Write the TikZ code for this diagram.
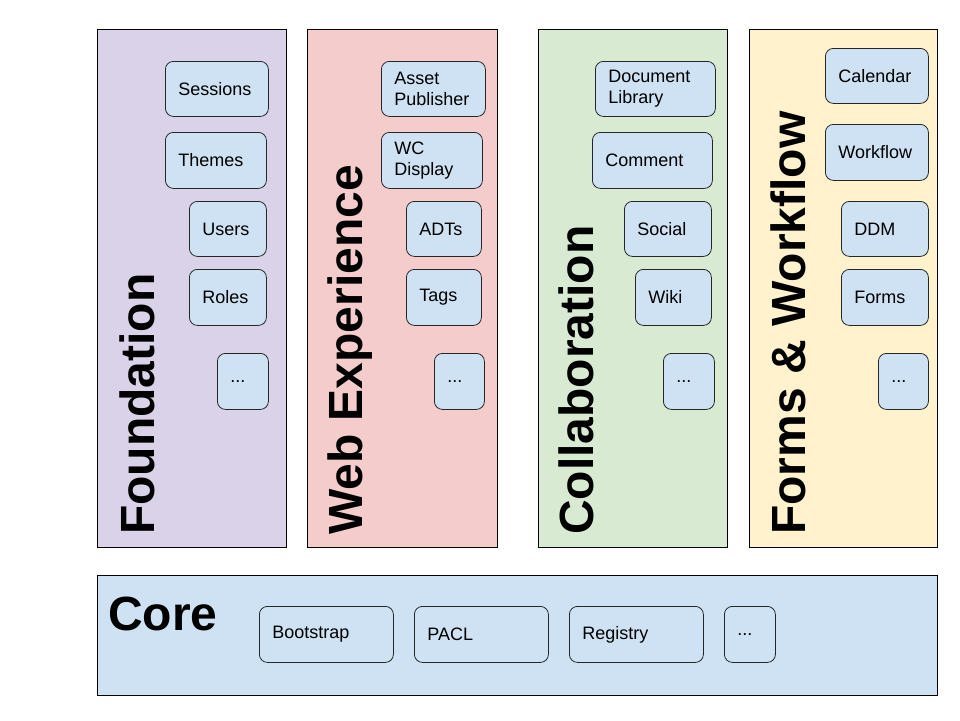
\documentclass[tikz,border=0pt]{standalone}
\usepackage{fontspec}
\setmainfont{Liberation Sans}
\usetikzlibrary{positioning}
\definecolor{foundpurple}{HTML}{D9D2E9}
\definecolor{webred}{HTML}{F4CCCC}
\definecolor{collabgreen}{HTML}{D9EAD3}
\definecolor{formsyellow}{HTML}{FFF2CC}
\definecolor{coreblue}{HTML}{CFE2F3}
\definecolor{moduleblue}{HTML}{CFE2F3}
\begin{document}
\begin{tikzpicture}[x=1pt, y=-1pt,
  layer/.style={rectangle, draw=black, line width=0.8pt, anchor=north west, inner sep=0pt},
  module/.style={rectangle, rounded corners=8pt, draw=black!85, fill=moduleblue, line width=0.8pt, anchor=north west, inner xsep=13pt, inner ysep=0pt, align=left, font=\fontsize{18}{21.5}\selectfont},
  title/.style={font=\fontsize{48}{50}\selectfont\bfseries, inner sep=0pt, anchor=base west}
]
  \useasboundingbox (0,0) rectangle (960,720);

  % layers
  \node[layer, fill=foundpurple, minimum width=189, minimum height=518] (found) at (97,29) {};
  \node[layer, fill=webred, minimum width=190, minimum height=518] (web) at (307,29) {};
  \node[layer, fill=collabgreen, minimum width=189, minimum height=518] (collab) at (538,29) {};
  \node[layer, fill=formsyellow, minimum width=188, minimum height=518] (forms) at (749,29) {};
  \node[layer, fill=coreblue, minimum width=840, minimum height=120] (core) at (97,575) {};

  % titles
  \node[title, rotate=90] (foundtitle) at (154,535) {Foundation};
  \node[title, rotate=90] (webtitle) at (362,535) {Web Experience};
  \node[title, rotate=90] (collabtitle) at (593,535) {Collaboration};
  \node[title, rotate=90] (formstitle) at (805,535) {Forms \& Workflow};
  \node[title] (coretitle) at (108,630) {Core};

  % foundation modules
  \node[module, minimum width=103, minimum height=55, text width=77] (sessions) at (165,61) {Sessions};
  \node[module, minimum width=101, minimum height=56, text width=75] (themes) at (165,132) {Themes};
  \node[module, minimum width=77, minimum height=55, text width=51] (users) at (189,201) {Users};
  \node[module, minimum width=77, minimum height=56, text width=51] (roles) at (189,269) {Roles};
  \node[module, minimum width=51, minimum height=56, text width=25] (foundmore) at (217,353) {...};

  % web experience modules
  \node[module, minimum width=104, minimum height=55, text width=78] (asset) at (381,61) {Asset\\Publisher};
  \node[module, minimum width=101, minimum height=56, text width=75] (wcdisplay) at (381,132) {WC\\Display};
  \node[module, minimum width=75, minimum height=55, text width=49] (adts) at (406,201) {ADTs};
  \node[module, minimum width=75, minimum height=56, text width=49] (tags) at (406,269) {Tags};
  \node[module, minimum width=50, minimum height=56, text width=24] (webmore) at (434,353) {...};

  % collaboration modules
  \node[module, minimum width=120, minimum height=55, text width=94] (doclib) at (595,61) {Document\\Library};
  \node[module, minimum width=120, minimum height=56, text width=94] (comment) at (592,132) {Comment};
  \node[module, minimum width=87, minimum height=55, text width=61] (social) at (624,201) {Social};
  \node[module, minimum width=76, minimum height=56, text width=50] (wiki) at (635,269) {Wiki};
  \node[module, minimum width=51, minimum height=56, text width=25] (collabmore) at (663,353) {...};

  % forms & workflow modules
  \node[module, minimum width=103, minimum height=55, text width=77] (calendar) at (825,48) {Calendar};
  \node[module, minimum width=103, minimum height=56, text width=77] (workflow) at (825,124) {Workflow};
  \node[module, minimum width=87, minimum height=55, text width=61] (ddm) at (841,201) {DDM};
  \node[module, minimum width=87, minimum height=56, text width=61] (formsmod) at (841,269) {Forms};
  \node[module, minimum width=50, minimum height=56, text width=24] (formsmore) at (878,353) {...};

  % core modules
  \node[module, fill=none, minimum width=134, minimum height=56, text width=108] (bootstrap) at (259,606) {Bootstrap};
  \node[module, fill=none, minimum width=134, minimum height=56, text width=108] (pacl) at (414,606) {PACL};
  \node[module, fill=none, minimum width=134, minimum height=56, text width=108] (registry) at (569,606) {Registry};
  \node[module, fill=none, minimum width=51, minimum height=56, text width=25] (coremore) at (724,606) {...};
\end{tikzpicture}
\end{document}
